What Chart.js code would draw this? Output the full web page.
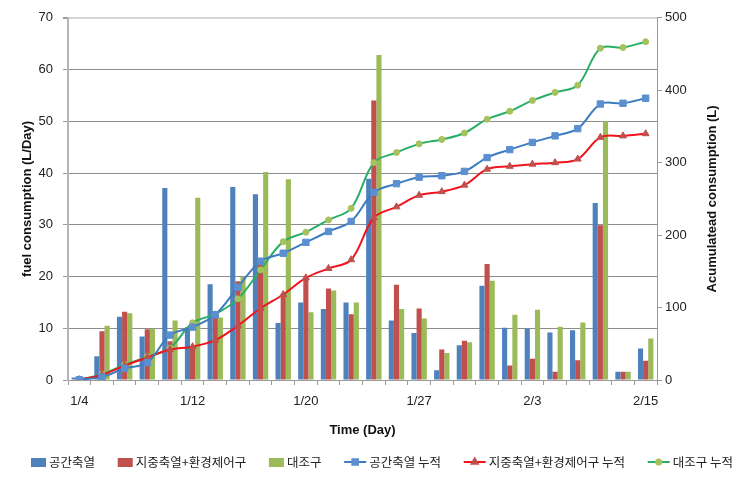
<!DOCTYPE html>
<html>
<head>
<meta charset="utf-8">
<script src="https://cdn.jsdelivr.net/npm/chart.js@4.4.1/dist/chart.umd.min.js"></script>
<style>
  html, body { margin: 0; padding: 0; background: #fff; }
  #wrap { width: 735px; height: 481px; }
</style>
</head>
<body>
<div id="wrap"><canvas id="chart" width="735" height="481"></canvas></div>
<script>
// only every fifth date is labelled in the original
const days = ["1/4", "", "", "", "", "1/12", "", "", "", "", "1/20", "", "", "", "", "1/27", "", "", "", "", "2/3", "", "", "", "", "2/15"];

// daily fuel use (L/Day)
const spaceDaily = [0.5, 4.6, 12.2, 8.4, 37.1, 10.2, 18.5, 37.3, 35.9, 11.0, 15.0, 13.7, 15.0, 38.9, 11.5, 9.1, 1.9, 6.7, 18.2, 10.1, 9.9, 9.2, 9.6, 34.2, 1.6, 6.1];
const groundDaily = [0.5, 9.4, 13.2, 9.8, 7.5, 6.2, 12.0, 19.1, 23.5, 16.6, 19.8, 17.7, 12.7, 54.0, 18.4, 13.8, 5.9, 7.6, 22.4, 2.8, 4.1, 1.6, 3.8, 29.9, 1.6, 3.7];
const controlDaily = [0.5, 10.5, 12.9, 9.9, 11.5, 35.2, 12.1, 19.9, 40.2, 38.8, 13.1, 17.3, 15.0, 62.8, 13.7, 11.9, 5.2, 7.3, 19.2, 12.6, 13.6, 10.3, 11.1, 50.0, 1.6, 8.0];

// accumulated use (L)
const spaceCum = [0.5, 4, 16, 24, 62, 73, 90, 128, 164, 175, 190, 205, 219, 259, 271, 280, 282, 288, 307, 318, 328, 337, 347, 381, 382, 389];
const groundCum = [0.5, 7, 20, 31, 42, 46, 55, 75, 99, 118, 141, 154, 166, 224, 239, 255, 260, 269, 291, 295, 298, 300, 305, 335, 337, 340];
const controlCum = [0.5, 8, 21, 32, 44, 79, 91, 112, 152, 191, 204, 221, 237, 300, 314, 326, 332, 341, 360, 371, 386, 397, 407, 458, 459, 467];

const rightTitle = "Acumulatead consumption (L)";

const latin = "'Liberation Sans', Arial, 'Noto Sans CJK KR', sans-serif";
const korean = "'Noto Sans CJK KR', 'Liberation Sans', sans-serif";

const bar = (label, data, color) => ({
  type: "bar",
  label,
  data,
  backgroundColor: color,
  borderWidth: 0,
  yAxisID: "y",
  order: 1,
  barPercentage: 1,
  categoryPercentage: 0.68,
});

const line = (label, data, color, marker, style, radius) => ({
  type: "line",
  label,
  data,
  borderColor: color,
  backgroundColor: color,
  borderWidth: 2,
  tension: 0.35,
  pointStyle: style,
  pointRadius: radius,
  pointBackgroundColor: marker,
  pointBorderColor: marker,
  pointBorderWidth: 1,
  yAxisID: "y2",
  order: 0,
});

// one-row legend spread across the bottom like the excel one
const legendRow = {
  id: "legendRow",
  afterDraw(chart) {
    const ctx = chart.ctx;
    const y = 462;
    ctx.save();
    ctx.font = `12.5px ${korean}`;
    ctx.textBaseline = "middle";
    const items = chart.data.datasets.map((ds) => ({
      ds,
      sw: ds.type === "line" ? 22 : 15,
      tw: ctx.measureText(ds.label).width,
    }));
    const used = items.reduce((s, it) => s + it.sw + 3 + it.tw, 0);
    const x0 = 31, x1 = 733;
    const gap = (x1 - x0 - used) / (items.length - 1);
    let x = x0;
    items.forEach(({ ds, sw, tw }) => {
      if (ds.type === "line") {
        ctx.strokeStyle = ds.borderColor;
        ctx.lineWidth = 2;
        ctx.beginPath();
        ctx.moveTo(x, y);
        ctx.lineTo(x + sw, y);
        ctx.stroke();
        ctx.fillStyle = ds.pointBackgroundColor;
        ctx.strokeStyle = ds.pointBorderColor;
        Chart.helpers.drawPoint(ctx, { pointStyle: ds.pointStyle, radius: ds.pointRadius - 0.5, borderWidth: 1, rotation: 0 }, x + sw / 2, y);
      } else {
        ctx.fillStyle = ds.backgroundColor;
        ctx.fillRect(x, y - 4, sw, 9);
      }
      ctx.fillStyle = "#222";
      ctx.fillText(ds.label, x + sw + 3, y);
      x += sw + 3 + tw + gap;
    });
    ctx.restore();
  },
};

// excel turns the secondary axis title the same way as the primary one
const rightAxisTitle = {
  id: "rightAxisTitle",
  afterDraw(chart) {
    const ctx = chart.ctx;
    const area = chart.chartArea;
    ctx.save();
    ctx.translate(chart.width - 23, (area.top + area.bottom) / 2);
    ctx.rotate(-Math.PI / 2);
    ctx.font = `bold 13px ${latin}`;
    ctx.fillStyle = "#111";
    ctx.textAlign = "center";
    ctx.textBaseline = "middle";
    ctx.fillText(rightTitle, 0, 0);
    ctx.restore();
  },
};

const config = {
  data: {
    labels: days,
    datasets: [
      bar("공간축열", spaceDaily, "#4F81BD"),
      bar("지중축열+환경제어구", groundDaily, "#C0504D"),
      bar("대조구", controlDaily, "#9BBB59"),
      line("공간축열 누적", spaceCum, "#3D7CC0", "#5B8FD0", "rect", 4.5),
      line("지중축열+환경제어구 누적", groundCum, "#F0141E", "#C0504D", "triangle", 4),
      line("대조구 누적", controlCum, "#2BAE66", "#A5C25C", "circle", 3),
    ],
  },
  options: {
    responsive: false,
    animation: false,
    layout: { padding: { left: 16, right: 11, top: 14, bottom: 39 } },
    plugins: {
      tooltip: { enabled: false },
      legend: { display: false },
    },
    scales: {
      x: {
        grid: {
          offset: true,
          drawOnChartArea: false,
          tickLength: 5,
          color: "#9a9a9a",
        },
        border: { color: "#9a9a9a", width: 1 },
        ticks: {
          autoSkip: false,
          maxRotation: 0,
          padding: 9,
          color: "#222",
          font: { family: latin, size: 13 },
        },
        title: {
          display: true,
          text: "Time (Day)",
          color: "#111",
          font: { family: latin, size: 13, weight: "bold" },
          padding: { top: 4, bottom: 4 },
        },
        afterFit: (s) => { s.height = 62; },
      },
      y: {
        position: "left",
        min: 0,
        max: 70,
        ticks: {
          stepSize: 10,
          padding: 10,
          color: "#222",
          font: { family: latin, size: 13 },
        },
        grid: {
          color: (c) => (c.tick && c.tick.value === 70 ? "#d6d6d6" : "#8c8c8c"),
          lineWidth: (c) => (c.tick && c.tick.value === 70 ? 2 : 1),
          tickLength: 5,
          tickColor: "#9a9a9a",
        },
        border: { color: "#b5b5b5", width: 2 },
        title: {
          display: true,
          text: "fuel consumption (L/Day)",
          color: "#111",
          font: { family: latin, size: 13, weight: "bold" },
        },
        afterFit: (s) => { s.width = 52; },
      },
      y2: {
        position: "right",
        min: 0,
        max: 500,
        ticks: {
          stepSize: 100,
          padding: 3,
          color: "#222",
          font: { family: latin, size: 13 },
        },
        grid: {
          drawOnChartArea: false,
          tickLength: 5,
          tickColor: "#9a9a9a",
        },
        border: { color: "#9a9a9a", width: 1 },
        afterFit: (s) => { s.width = 67; },
      },
    },
  },
  plugins: [legendRow, rightAxisTitle],
};

new Chart(document.getElementById("chart"), config);
</script>
</body>
</html>
